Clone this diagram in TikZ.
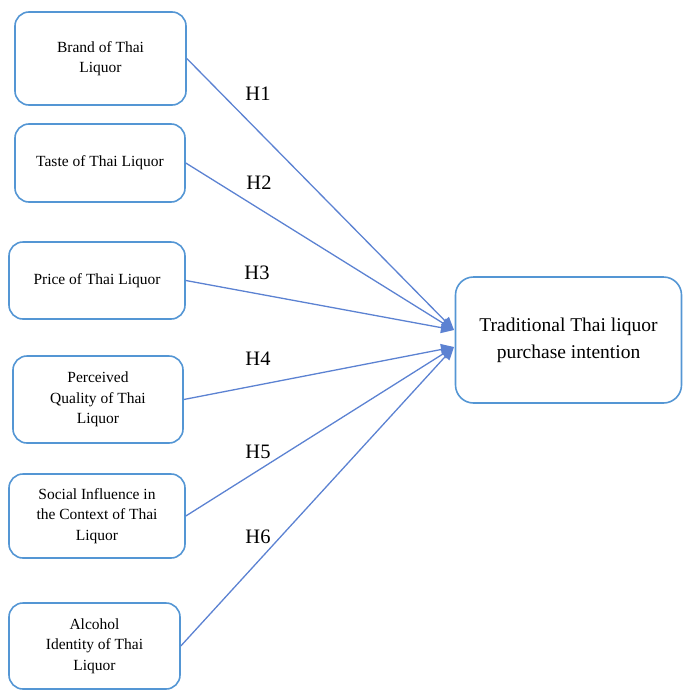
\documentclass[tikz,border=0pt]{standalone}
\usepackage{fontspec}
\setmainfont{Liberation Serif}
\usetikzlibrary{arrows.meta}
\definecolor{boxblue}{RGB}{84,150,212}
\definecolor{lineblue}{RGB}{92,130,210}
\begin{document}
\begin{tikzpicture}[x=1pt,y=-1pt,
  srcbox/.style={draw=boxblue,line width=1.6pt,rounded corners=14pt,align=center,
    font=\fontsize{15.5}{20.5}\selectfont,inner sep=0pt},
  tgtbox/.style={draw=boxblue,line width=1.6pt,rounded corners=18pt,align=center,
    font=\fontsize{19.5}{27}\selectfont,inner sep=0pt},
  hlabel/.style={font=\fontsize{20.5}{24}\selectfont},
  link/.style={draw=lineblue,line width=1.3pt,-{Triangle[length=13pt,width=11pt]}}]
\useasboundingbox (0,0) rectangle (683,691);
\node[srcbox,minimum width=171pt,minimum height=93pt] (b1) at (100.5,58.5) {Brand of Thai\\Liquor};
\node[srcbox,minimum width=170pt,minimum height=78pt] (b2) at (100,163) {Taste of Thai Liquor};
\node[srcbox,minimum width=176pt,minimum height=77pt] (b3) at (97,280.5) {Price of Thai Liquor};
\node[srcbox,minimum width=170pt,minimum height=87pt] (b4) at (98,399.5) {Perceived\\Quality of Thai\\Liquor};
\node[srcbox,minimum width=176pt,minimum height=84pt] (b5) at (97,516) {Social Influence in\\the Context of Thai\\Liquor};
\node[srcbox,minimum width=171pt,minimum height=86pt] (b6) at (94.5,646) {Alcohol\\Identity of Thai\\Liquor};
\node[tgtbox,minimum width=226pt,minimum height=126pt] (t) at (568.5,340) {Traditional Thai liquor\\purchase intention};
\coordinate (tu) at (454,330);
\coordinate (tl) at (454,347);
\draw[link] (b1.east) -- (tu);
\draw[link] (b2.east) -- (tu);
\draw[link] (b3.east) -- (tu);
\draw[link] (b4.east) -- (tl);
\draw[link] (b5.east) -- (tl);
\draw[link] (b6.east) -- (tl);
\node[hlabel] (h1) at (258,94) {H1};
\node[hlabel] (h2) at (259,183) {H2};
\node[hlabel] (h3) at (257,273) {H3};
\node[hlabel] (h4) at (258,359) {H4};
\node[hlabel] (h5) at (258,452) {H5};
\node[hlabel] (h6) at (258,537) {H6};
\end{tikzpicture}
\end{document}
